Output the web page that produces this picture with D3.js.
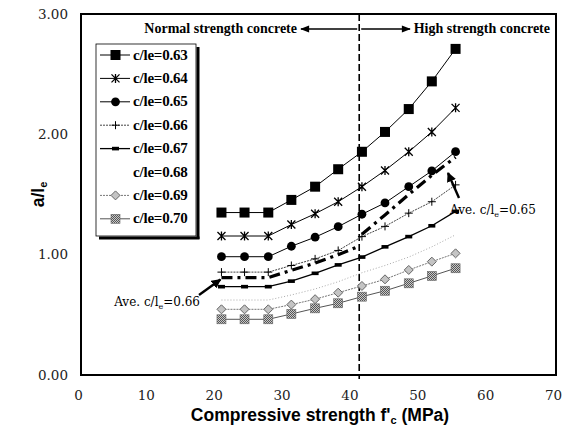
<!DOCTYPE html>
<html>
<head>
<meta charset="utf-8">
<script src="https://cdn.jsdelivr.net/npm/d3@7"></script>
<style>
  body { margin: 0; background: #fff; }
  svg { display: block; }
</style>
</head>
<body>
<div id="chart-area"></div>
<script>
// compressive strength values (MPa), 3000 to 8000 psi
var fc = [20.7, 24.1, 27.6, 31.0, 34.5, 37.9, 41.4, 44.8, 48.3, 51.7, 55.2];

var ratios = ["c/le=0.63", "c/le=0.64", "c/le=0.65", "c/le=0.66", "c/le=0.67", "c/le=0.68", "c/le=0.69", "c/le=0.70"];
var s063 = [1.35, 1.35, 1.35, 1.455, 1.565, 1.71, 1.855, 2.02, 2.21, 2.44, 2.71];
var s064 = [1.155, 1.155, 1.155, 1.25, 1.34, 1.44, 1.565, 1.70, 1.855, 2.02, 2.22];
var s065 = [0.983, 0.983, 0.983, 1.07, 1.145, 1.233, 1.336, 1.43, 1.565, 1.696, 1.856];
var s066 = [0.855, 0.855, 0.855, 0.91, 0.965, 1.035, 1.15, 1.235, 1.345, 1.44, 1.58];
var s067 = [0.734, 0.734, 0.734, 0.78, 0.845, 0.915, 0.98, 1.065, 1.15, 1.24, 1.36];
var s068 = [0.623, 0.623, 0.623, 0.665, 0.715, 0.775, 0.85, 0.91, 0.98, 1.065, 1.165];
var s069 = [0.546, 0.546, 0.546, 0.585, 0.63, 0.684, 0.74, 0.795, 0.873, 0.942, 1.011];
var s070 = [0.463, 0.463, 0.463, 0.507, 0.554, 0.596, 0.651, 0.70, 0.762, 0.823, 0.887];
var allSeries = [s063, s064, s065, s066, s067, s068, s069, s070];

// average c/le lines
var aveNormalX = [20.7, 24.1, 27.6, 31.0, 34.5, 37.9, 41.0];
var aveNormalY = [0.81, 0.81, 0.81, 0.87, 0.93, 1.00, 1.07];
var aveHighX = [41.4, 44.8, 48.3, 51.7, 55.2];
var aveHighY = [1.17, 1.33, 1.50, 1.66, 1.81];

var xTicks = [0, 10, 20, 30, 40, 50, 60, 70];
var yTicks = [0, 1, 2, 3];
var boundary = 41;

var W = 563, H = 430;
var margin = {left: 81, right: 556, top: 14, bottom: 375};

var svg = d3.select("#chart-area")
  .append("svg")
    .attr("width", W)
    .attr("height", H);

var defs = svg.append("defs");
var pat = defs.append("pattern")
  .attr("id", "checker")
  .attr("width", 2).attr("height", 2)
  .attr("patternUnits", "userSpaceOnUse");
pat.append("rect").attr("width", 2).attr("height", 2).attr("fill", "#c8c8c8");
pat.append("rect").attr("width", 1).attr("height", 1).attr("fill", "#555");
pat.append("rect").attr("x", 1).attr("y", 1).attr("width", 1).attr("height", 1).attr("fill", "#555");

defs.append("marker")
  .attr("id", "arrow")
  .attr("viewBox", "0 0 10 10")
  .attr("refX", 9).attr("refY", 5)
  .attr("markerWidth", 4).attr("markerHeight", 4)
  .attr("orient", "auto-start-reverse")
  .append("path")
    .attr("d", "M0,0L10,5L0,10Z")
    .attr("fill", "#000");

defs.append("marker")
  .attr("id", "arrowThin")
  .attr("viewBox", "0 0 10 10")
  .attr("refX", 9).attr("refY", 5)
  .attr("markerWidth", 7).attr("markerHeight", 6)
  .attr("orient", "auto-start-reverse")
  .append("path")
    .attr("d", "M0,1L10,5L0,9Z")
    .attr("fill", "#000");

var x = d3.scaleLinear().domain([0, 70]).range([margin.left, margin.right]);
var y = d3.scaleLinear().domain([0, 3]).range([margin.bottom, margin.top]);

// styles for each series
var styles = [
  {stroke: "#000", width: 1, dash: null, marker: "square"},
  {stroke: "#000", width: 1, dash: null, marker: "star"},
  {stroke: "#000", width: 1, dash: null, marker: "circle"},
  {stroke: "#444", width: 1, dash: "2,1", marker: "plus"},
  {stroke: "#000", width: 1.3, dash: null, marker: "bar"},
  {stroke: "#aaa", width: 1, dash: "1,2", marker: null},
  {stroke: "#777", width: 1, dash: "2,1", marker: "diamond"},
  {stroke: "#555", width: 1, dash: null, marker: "checker"}
];

function drawMarker(g, type, cx, cy) {
  if (type === "square") {
    g.append("rect").attr("x", cx - 5).attr("y", cy - 5)
      .attr("width", 10).attr("height", 10).attr("fill", "#000");
  } else if (type === "star") {
    g.append("path")
      .attr("d", "M" + (cx - 4) + "," + (cy - 4) + "L" + (cx + 4) + "," + (cy + 4) +
        "M" + (cx - 4) + "," + (cy + 4) + "L" + (cx + 4) + "," + (cy - 4) +
        "M" + cx + "," + (cy - 4.5) + "L" + cx + "," + (cy + 4.5))
      .attr("stroke", "#000").attr("stroke-width", 1.3);
  } else if (type === "circle") {
    g.append("circle").attr("cx", cx).attr("cy", cy).attr("r", 4.4).attr("fill", "#000");
  } else if (type === "plus") {
    g.append("path")
      .attr("d", "M" + (cx - 4) + "," + cy + "H" + (cx + 4) + "M" + cx + "," + (cy - 4) + "V" + (cy + 4))
      .attr("stroke", "#000").attr("stroke-width", 1);
  } else if (type === "bar") {
    g.append("rect").attr("x", cx - 3.5).attr("y", cy - 1.8)
      .attr("width", 7).attr("height", 3.6).attr("fill", "#000");
  } else if (type === "diamond") {
    g.append("path")
      .attr("d", "M" + cx + "," + (cy - 4.5) + "L" + (cx + 4.5) + "," + cy + "L" + cx + "," + (cy + 4.5) + "L" + (cx - 4.5) + "," + cy + "Z")
      .attr("fill", "#c4c4c4").attr("stroke", "#666").attr("stroke-width", 1);
  } else if (type === "checker") {
    g.append("rect").attr("x", cx - 4.5).attr("y", cy - 4.5)
      .attr("width", 9).attr("height", 9).attr("fill", "url(#checker)")
      .attr("stroke", "#666").attr("stroke-width", 0.6);
  }
}

// axes
var xAxis = d3.axisBottom(x).tickValues(xTicks).tickSize(0).tickPadding(15).tickFormat(d3.format("d"));
var gx = svg.append("g")
  .attr("transform", "translate(0," + margin.bottom + ")")
  .call(xAxis);
gx.select(".domain").remove();
gx.selectAll("text")
  .attr("dx", "-3")
  .style("font-family", "'DejaVu Serif', serif")
  .style("font-size", "13.5px")
  .style("fill", "#222");

var yAxis = d3.axisLeft(y).tickValues(yTicks).tickSize(0).tickPadding(13).tickFormat(d3.format(".2f"));
var gy = svg.append("g")
  .attr("transform", "translate(" + margin.left + ",0)")
  .call(yAxis);
gy.select(".domain").remove();
gy.selectAll("text")
  .style("font-family", "'DejaVu Serif', serif")
  .style("font-size", "13.5px")
  .style("fill", "#222");

// frame
svg.append("rect")
  .attr("x", margin.left).attr("y", margin.top)
  .attr("width", margin.right - margin.left).attr("height", margin.bottom - margin.top)
  .attr("fill", "none").attr("stroke", "#000").attr("stroke-width", 2);

// boundary between normal / high strength
svg.append("line")
  .attr("x1", x(boundary)).attr("x2", x(boundary))
  .attr("y1", margin.top).attr("y2", margin.bottom + 4)
  .attr("stroke", "#000").attr("stroke-width", 1.6)
  .attr("stroke-dasharray", "7,3");

// series
var line = d3.line()
  .x(function(d) { return x(d[0]); })
  .y(function(d) { return y(d[1]); });

allSeries.forEach(function(vals, i) {
  var st = styles[i];
  var pts = fc.map(function(f, j) { return [f, vals[j]]; });
  svg.append("path")
    .datum(pts)
    .attr("d", line)
    .attr("fill", "none")
    .attr("stroke", st.stroke)
    .attr("stroke-width", st.width)
    .attr("stroke-dasharray", st.dash);
  if (st.marker) {
    var gm = svg.append("g");
    pts.forEach(function(p) { drawMarker(gm, st.marker, x(p[0]), y(p[1])); });
  }
});

// average lines (dash-dot)
[[aveNormalX, aveNormalY], [aveHighX, aveHighY]].forEach(function(a) {
  var pts = a[0].map(function(f, j) { return [f, a[1][j]]; });
  svg.append("path")
    .datum(pts)
    .attr("d", line)
    .attr("fill", "none")
    .attr("stroke", "#000")
    .attr("stroke-width", 3.2)
    .attr("stroke-dasharray", "11,5,3,5");
});

// annotations
function aveLabel(tx, ty, anchor, val) {
  var t = svg.append("text")
    .attr("x", tx).attr("y", ty)
    .attr("text-anchor", anchor)
    .style("font-family", "'DejaVu Serif', serif")
    .style("font-size", "12px")
    .style("fill", "#000");
  t.append("tspan").text("Ave. c/l");
  t.append("tspan").attr("dy", 3).style("font-size", "8px").text("e");
  t.append("tspan").attr("dy", -3).text("=" + val);
}

svg.append("line")
  .attr("x1", 199).attr("y1", 295).attr("x2", x(aveNormalX[0]) - 1).attr("y2", y(aveNormalY[0]) + 2)
  .attr("stroke", "#000").attr("stroke-width", 2.4)
  .attr("marker-end", "url(#arrow)");
aveLabel(200, 306, "end", "0.66");

svg.append("line")
  .attr("x1", 459).attr("y1", 198).attr("x2", 448).attr("y2", 173)
  .attr("stroke", "#000").attr("stroke-width", 2.4)
  .attr("marker-end", "url(#arrow)");
aveLabel(450, 214, "start", "0.65");

// header
svg.append("text")
  .attr("x", 297).attr("y", 33)
  .attr("text-anchor", "end")
  .style("font-family", "'Liberation Serif', serif")
  .style("font-weight", "bold")
  .style("font-size", "14px")
  .text("Normal strength concrete");
svg.append("text")
  .attr("x", 550).attr("y", 33)
  .attr("text-anchor", "end")
  .style("font-family", "'Liberation Serif', serif")
  .style("font-weight", "bold")
  .style("font-size", "14px")
  .text("High strength concrete");
svg.append("line")
  .attr("x1", x(boundary) - 2).attr("y1", 29).attr("x2", 301).attr("y2", 29)
  .attr("stroke", "#000").attr("stroke-width", 1.5)
  .attr("marker-end", "url(#arrowThin)");
svg.append("line")
  .attr("x1", x(boundary) + 2).attr("y1", 29).attr("x2", 410).attr("y2", 29)
  .attr("stroke", "#000").attr("stroke-width", 1.5)
  .attr("marker-end", "url(#arrowThin)");

// legend
var lg = svg.append("g");
lg.append("line").attr("x1", 198).attr("y1", 47).attr("x2", 198).attr("y2", 239)
  .attr("stroke", "#000").attr("stroke-width", 3);
lg.append("line").attr("x1", 99).attr("y1", 238).attr("x2", 199.5).attr("y2", 238)
  .attr("stroke", "#000").attr("stroke-width", 3);
lg.append("rect").attr("x", 96).attr("y", 44).attr("width", 100).attr("height", 192)
  .attr("fill", "#fff").attr("stroke", "#000").attr("stroke-width", 0.8);

ratios.forEach(function(name, i) {
  var st = styles[i];
  var ly = 55 + i * 23.4;
  if (st.marker) {
    lg.append("line").attr("x1", 100).attr("x2", 130).attr("y1", ly).attr("y2", ly)
      .attr("stroke", st.stroke).attr("stroke-width", st.width)
      .attr("stroke-dasharray", st.dash);
    drawMarker(lg, st.marker, 115.5, ly);
  }
  lg.append("text")
    .attr("x", 133).attr("y", ly + 4.5)
    .style("font-family", "'Liberation Serif', serif")
    .style("font-weight", "bold")
    .style("font-size", "15px")
    .style("letter-spacing", "-0.2px")
    .text(name);
});

// axis titles
var xt = svg.append("text")
  .attr("x", 320).attr("y", 421)
  .attr("text-anchor", "middle")
  .style("font-family", "'Liberation Sans', Arial, sans-serif")
  .style("font-weight", "bold")
  .style("font-size", "17.5px");
xt.append("tspan").text("Compressive strength f'");
xt.append("tspan").attr("dy", 3).style("font-size", "11px").text("c");
xt.append("tspan").attr("dy", -3).text(" (MPa)");

var yt = svg.append("text")
  .attr("transform", "translate(44," + ((margin.top + margin.bottom) / 2) + ") rotate(-90)")
  .attr("text-anchor", "middle")
  .style("font-family", "'Liberation Sans', Arial, sans-serif")
  .style("font-weight", "bold")
  .style("font-size", "17.5px");
yt.append("tspan").text("a/l");
yt.append("tspan").attr("dy", 3).style("font-size", "11px").text("e");
</script>
</body>
</html>
